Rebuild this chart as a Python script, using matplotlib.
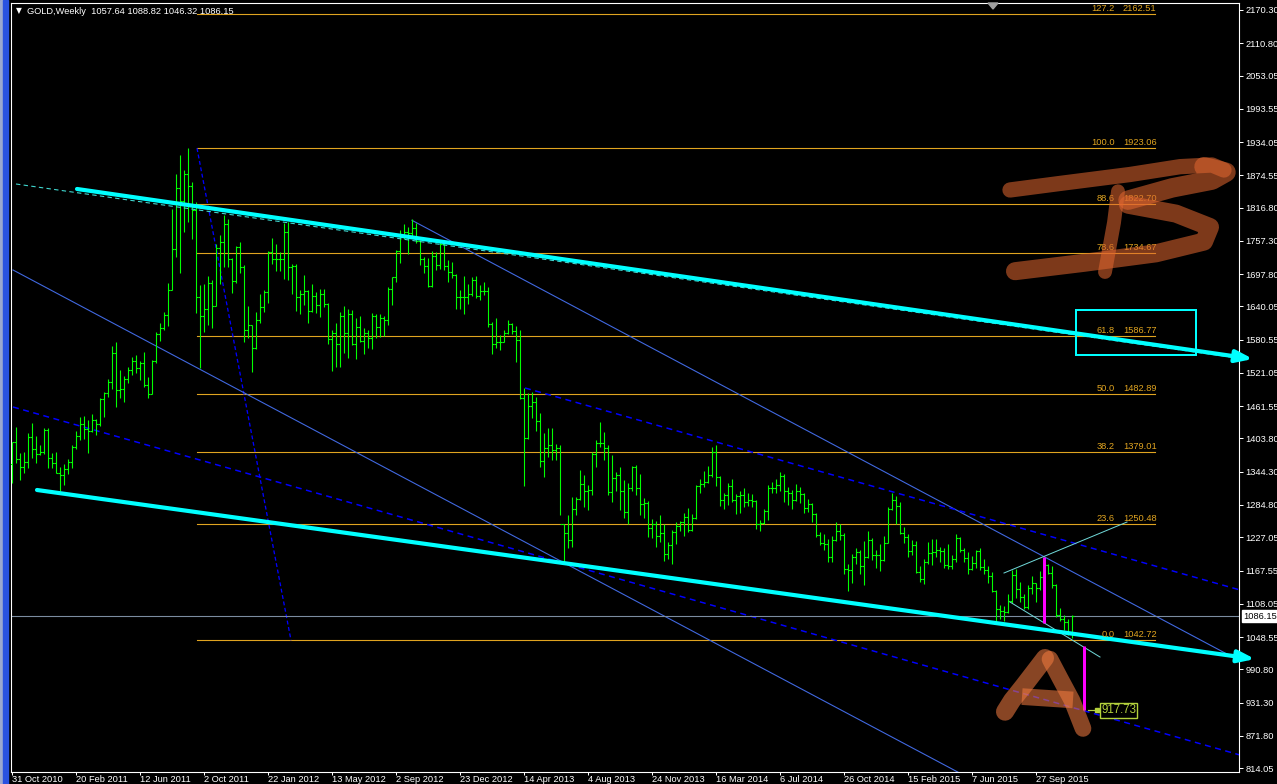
import matplotlib
matplotlib.use("Agg")
import matplotlib.pyplot as plt
from matplotlib.collections import LineCollection
from matplotlib.patches import Rectangle, Polygon

plt.rcParams['font.family'] = ['Liberation Sans', 'DejaVu Sans']

# ---------------- data (weekly GOLD bars, index 0 = week of 31 Oct 2010) ----------------
opens = [1358,1397,1367,1352,1362,1406,1385,1376,1380,1419,
         1368,1360,1342,1338,1349,1361,1388,1409,1429,1421,
         1418,1437,1429,1474,1486,1504,1556,1491,1492,1510,
         1526,1542,1530,1538,1500,1484,1542,1590,1601,1625,
         1670,1743,1852,1828,1877,1855,1813,1656,1623,1636,
         1682,1641,1745,1755,1788,1724,1685,1747,1710,1598,
         1606,1566,1616,1639,1665,1738,1725,1725,1725,1773,
         1710,1712,1656,1662,1668,1631,1659,1642,1663,1645,
         1581,1592,1572,1622,1592,1626,1572,1604,1579,1593,
         1584,1622,1603,1620,1616,1671,1692,1740,1768,1773,
         1772,1780,1757,1724,1712,1676,1730,1714,1751,1712,
         1701,1697,1657,1657,1656,1662,1687,1658,1667,1667,
         1609,1572,1576,1577,1592,1608,1596,1580,1476,1405,
         1462,1469,1435,1364,1386,1392,1383,1387,1251,1234,
         1223,1277,1296,1322,1310,1312,1376,1396,1395,1386,
         1308,1333,1338,1310,1272,1315,1352,1315,1286,1288,
         1243,1250,1229,1235,1197,1214,1237,1248,1254,1264,
         1240,1262,1318,1323,1326,1338,1379,1334,1294,1303,
         1318,1294,1300,1302,1290,1293,1292,1250,1252,1274,
         1316,1316,1320,1337,1310,1307,1294,1309,1305,1280,
         1287,1268,1231,1216,1215,1192,1222,1238,1231,1171,
         1169,1191,1201,1175,1191,1222,1195,1195,1186,1216,
         1277,1293,1283,1234,1227,1203,1213,1165,1152,1183,
         1199,1201,1205,1203,1178,1175,1188,1225,1205,1190,
         1170,1181,1202,1173,1168,1157,1131,1099,1095,1094,
         1113,1160,1134,1121,1103,1137,1145,1137,1156,1177,
         1163,1142,1088,1081,1076,1057.64]
highs = [1398,1424,1378,1380,1414,1431,1408,1392,1422,1422,
         1378,1379,1353,1358,1367,1392,1417,1442,1444,1437,
         1448,1439,1476,1487,1510,1569,1576,1526,1515,1531,
         1549,1553,1542,1558,1514,1544,1594,1610,1630,1682,
         1814,1877,1911,1884,1923.06,1863,1827,1678,1681,1694,
         1687,1752,1768,1804,1796,1727,1748,1755,1714,1641,
         1607,1630,1662,1669,1739,1762,1752,1738,1789,1791,
         1716,1716,1669,1696,1669,1680,1666,1671,1671,1646,
         1598,1611,1630,1641,1635,1634,1619,1623,1601,1598,
         1628,1626,1626,1623,1675,1693,1741,1777,1787,1782,
         1796,1789,1758,1729,1727,1740,1738,1755,1755,1723,
         1720,1698,1670,1694,1680,1693,1694,1679,1684,1674,
         1612,1619,1588,1597,1616,1611,1605,1598,1494,1485,
         1487,1478,1449,1414,1423,1423,1394,1392,1251,1267,
         1299,1299,1347,1338,1320,1380,1401,1433,1415,1392,
         1374,1344,1353,1330,1325,1355,1356,1340,1298,1292,
         1259,1256,1267,1250,1218,1240,1254,1256,1270,1279,
         1268,1320,1332,1345,1355,1388,1392,1336,1306,1324,
         1331,1304,1310,1315,1306,1304,1294,1258,1277,1320,
         1326,1331,1344,1340,1317,1311,1322,1317,1306,1295,
         1288,1270,1236,1232,1224,1230,1255,1250,1235,1179,
         1197,1208,1205,1221,1238,1225,1205,1215,1229,1282,
         1307,1301,1290,1245,1232,1223,1220,1175,1188,1219,
         1224,1224,1209,1207,1215,1196,1232,1228,1208,1201,
         1193,1205,1207,1189,1175,1164,1133,1106,1104,1126,
         1168,1170,1147,1125,1142,1157,1146,1166,1191,1180,
         1175,1143,1100,1088,1080,1088.82]
lows = [1325,1360,1330,1342,1351,1369,1360,1374,1376,1351,
        1351,1342,1310,1320,1340,1351,1385,1401,1403,1378,
        1415,1410,1426,1442,1478,1492,1460,1476,1469,1503,
        1517,1521,1508,1496,1476,1483,1539,1578,1598,1605,
        1670,1728,1700,1773,1791,1761,1628,1530,1594,1607,
        1601,1640,1680,1711,1711,1664,1682,1700,1576,1583,
        1522,1564,1610,1630,1646,1715,1703,1703,1689,1688,
        1663,1632,1627,1643,1611,1630,1628,1621,1639,1573,
        1525,1532,1532,1557,1548,1571,1546,1576,1555,1565,
        1563,1583,1585,1587,1607,1643,1683,1718,1761,1734,
        1764,1754,1714,1699,1675,1674,1705,1707,1706,1684,
        1690,1636,1635,1626,1645,1659,1655,1651,1660,1604,
        1555,1565,1562,1576,1591,1590,1540,1475,1318,1403,
        1440,1418,1352,1335,1371,1365,1365,1267,1181,1208,
        1210,1267,1294,1281,1275,1303,1353,1388,1365,1303,
        1290,1310,1276,1262,1251,1309,1303,1267,1262,1227,
        1226,1209,1218,1184,1188,1179,1215,1238,1229,1236,
        1238,1260,1306,1317,1324,1335,1319,1283,1277,1285,
        1291,1268,1271,1282,1283,1281,1242,1238,1251,1258,
        1306,1306,1309,1290,1285,1277,1292,1288,1271,1272,
        1254,1227,1213,1205,1183,1183,1220,1222,1161,1131,
        1146,1180,1161,1142,1190,1186,1172,1167,1185,1216,
        1276,1250,1232,1216,1192,1196,1163,1147,1144,1180,
        1177,1191,1183,1172,1170,1170,1182,1200,1182,1162,
        1168,1172,1168,1162,1146,1130,1077,1080,1077,1092,
        1110,1118,1111,1098,1098,1125,1111,1132,1147,1161,
        1136,1085,1078,1062,1052,1046.32]
closes = opens[1:] + [1086.15]

# x-axis labels: one every 16 weekly bars
date_ticks = [0, 16, 32, 48, 64, 80, 96, 112, 128, 144, 160, 176, 192, 208, 224, 240, 256]
date_labels = ["31 Oct 2010", "20 Feb 2011", "12 Jun 2011", "2 Oct 2011", "22 Jan 2012",
               "13 May 2012", "2 Sep 2012", "23 Dec 2012", "14 Apr 2013", "4 Aug 2013",
               "24 Nov 2013", "16 Mar 2014", "6 Jul 2014", "26 Oct 2014", "15 Feb 2015",
               "7 Jun 2015", "27 Sep 2015"]
price_ticks = [2170.30, 2110.80, 2053.05, 1993.55, 1934.05, 1874.55, 1816.80, 1757.30,
               1697.80, 1640.05, 1580.55, 1521.05, 1461.55, 1403.80, 1344.30, 1284.80,
               1227.05, 1167.55, 1108.05, 1048.55, 990.80, 931.30, 871.80, 814.05]

# Fibonacci retracement
fib_levels = [127.2, 100.0, 88.6, 78.6, 61.8, 50.0, 38.2, 23.6, 0.0]
fib_prices = [2162.51, 1923.06, 1822.70, 1734.67, 1586.77, 1482.89, 1379.01, 1250.48, 1042.72]
fib_x = [46.25, 285.75]
fib_diag = [(46.25, 1923.06), (69.75, 1042.72)]

# trend lines (week index, price)
upper_cyan = [(16.25, 1850.1), (310.25, 1546.0)]
lower_cyan = [(6.25, 1311.6), (310.75, 1009.2)]
cyan_dashed = [(1.0, 1859.0), (307.0, 1547.0)]
blue_line_a = [(0.25, 1705.2), (240.0, 793.5)]
blue_line_b = [(100.0, 1794.0), (307.0, 1005.7)]
blue_dash_c = [(0.25, 1460.1), (307.0, 837.5)]
blue_dash_d = [(128.25, 1494.1), (307.0, 1132.7)]
wedge_upper = [(248.0, 1163.1), (278.75, 1254.3)]
wedge_lower = [(249.5, 1111.2), (272.0, 1012.8)]
magenta_1 = [(258.0, 1191.6), (258.0, 1073.0)]
magenta_2 = [(268.0, 1032.5), (268.0, 917.73)]
target_price = 917.73
last_price = 1086.15
box_zone = [(266.0, 1553.1), (296.0, 1633.6)]

# hand-drawn letters (week index, price)
b_top = [(249.5, 1848.3), (262.0, 1860.0), (279.5, 1876.0), (292.0, 1890.0), (300.0, 1893.0),
         (303.0, 1884.0)]
b_blob = [(298.0, 1890.0), (303.5, 1880.0), (300.0, 1866.0), (290.0, 1852.0), (279.0, 1830.0)]
b_bottom = [(279.0, 1822.0), (291.0, 1806.0), (299.5, 1782.0), (298.0, 1756.0),
            (286.0, 1735.0), (268.0, 1718.0), (250.75, 1703.0)]
b_stem = [(276.5, 1846.0), (275.5, 1790.0), (273.25, 1701.6)]
a_left = [(248.25, 915.0), (250.0, 935.0), (253.0, 962.0), (258.25, 1011.0)]
a_right = [(259.5, 1009.0), (262.0, 975.0), (265.0, 935.0), (267.75, 885.0)]
a_bar = [(252.5, 942.0), (265.25, 936.0)]

header = "GOLD,Weekly  1057.64 1088.82 1046.32 1086.15"

# ---------------- figure ----------------
W, H = 1277, 784
fig = plt.figure(figsize=(W / 100, H / 100), dpi=100, facecolor="black")
L, R, T, B = 11, 1239, 3, 772
ax = fig.add_axes([L / W, 1 - B / H, (R - L) / W, (B - T) / H])
ax.set_facecolor("black")
ax.set_xlim(-0.25, 306.75)
ax.set_ylim(807.1, 2182.8)

FS = 6.7
px = 0.72  # one pixel in points

# OHLC bars
segs = []
for i, (o, h, l, c) in enumerate(zip(opens, highs, lows, closes)):
    segs.append([(i, l), (i, h)])
    segs.append([(i - 0.38, o), (i, o)])
    segs.append([(i, c), (i + 0.38, c)])
ax.add_collection(LineCollection(segs, colors="#00FF00", linewidths=1.1 * px, zorder=3))

def line(pts, **kw):
    xs, ys = zip(*pts)
    return ax.plot(xs, ys, **kw)

# Fibonacci levels
fib_col = "#E0A420"
for lvl, p in zip(fib_levels, fib_prices):
    ax.plot(fib_x, [p, p], color=fib_col, lw=1.1 * px, zorder=2)
    ax.annotate(f"{lvl:.1f}", xy=(fib_x[1], p), xytext=(-40, 1), textcoords="offset pixels",
                ha="right", va="bottom", color=fib_col, fontsize=FS, zorder=6)
    ax.annotate(f"{p:.2f}", xy=(fib_x[1], p), xytext=(-32, 1), textcoords="offset pixels",
                ha="left", va="bottom", color=fib_col, fontsize=FS, zorder=6)
line(fib_diag, color="#0000FF", lw=1.3 * px, ls=(0, (3, 2)), zorder=2)

# blue channel lines
line(blue_line_a, color="#4169E1", lw=1.1 * px, zorder=2)
line(blue_line_b, color="#4169E1", lw=1.1 * px, zorder=2)
line(blue_dash_c, color="#0000FF", lw=1.5 * px, ls=(0, (4, 3)), zorder=2)
line(blue_dash_d, color="#0000FF", lw=1.5 * px, ls=(0, (4, 3)), zorder=2)

# current price line
ax.axhline(last_price, color="#7B8CA0", lw=1.1 * px, zorder=2)

# cyan lines
line(cyan_dashed, color="#40D8D0", lw=1.1 * px, ls=(0, (4, 3)), zorder=4)
for pts in (upper_cyan, lower_cyan):
    ann = ax.annotate("", xy=pts[1], xytext=pts[0], annotation_clip=False,
                      arrowprops=dict(arrowstyle="-|>,head_length=1.0,head_width=0.36",
                                      lw=3.0, color="#00FFFF", shrinkA=0, shrinkB=0),
                      zorder=5)
    ann.arrow_patch.set_clip_on(False)

# wedge lines
line(wedge_upper, color="#70D8D8", lw=1.0 * px, zorder=4)
line(wedge_lower, color="#70D8D8", lw=1.0 * px, zorder=4)

# magenta measurement lines
line(magenta_1, color="#FF00FF", lw=3 * px, zorder=5, solid_capstyle="butt")
line(magenta_2, color="#FF00FF", lw=3 * px, zorder=5, solid_capstyle="butt")

# target label
tgt_col = "#B4D23C"
ax.plot([magenta_2[1][0] + 1.0, magenta_2[1][0] + 3.6], [target_price, target_price],
        color=tgt_col, lw=1.2 * px, zorder=6)
ax.plot([magenta_2[1][0] + 3.3], [target_price], marker="s", ms=3, color=tgt_col, zorder=6)
ax.annotate(f"{target_price:.2f}", xy=(magenta_2[1][0], target_price), xytext=(17, 0),
            textcoords="offset pixels", ha="left", va="center", color=tgt_col,
            fontsize=FS + 1.6, zorder=7,
            bbox=dict(boxstyle="square,pad=0.12", fc="black", ec=tgt_col, lw=1.0))

# cyan box
(bx0, by0), (bx1, by1) = box_zone
ax.add_patch(Rectangle((bx0, by0), bx1 - bx0, by1 - by0, fill=False, ec="#00FFFF",
                       lw=2 * px, zorder=6))

# hand drawn letters
brush_b = dict(color="#E06630", alpha=0.56, lw=11, solid_capstyle="round",
               solid_joinstyle="round", zorder=8)
brush_a = dict(color="#F07A40", alpha=0.57, lw=12, solid_capstyle="round",
               solid_joinstyle="round", zorder=8)
line(b_top, **brush_b)
line(b_blob, **dict(brush_b, lw=14))
line(b_bottom, **dict(brush_b, lw=13))
line(b_stem, **dict(brush_b, lw=10))
line(a_left, **dict(brush_a, lw=13))
line(a_right, **dict(brush_a, lw=12))
line(a_bar, **dict(brush_a, solid_capstyle="butt"))

# axes styling
for s in ax.spines.values():
    s.set_color("white")
    s.set_linewidth(1.1 * px)
ax.set_xticks(date_ticks)
ax.set_xticklabels(date_labels)
for t in ax.get_xticklabels():
    t.set_ha("left")
ax.tick_params(axis="x", colors="white", length=2.5, width=1 * px, pad=-0.5, labelsize=FS)
ax.yaxis.tick_right()
ax.set_yticks(price_ticks)
ax.set_yticklabels([f"{v:.2f}" for v in price_ticks])
ax.tick_params(axis="y", colors="white", length=3, width=1 * px, pad=1.5, labelsize=FS)

# current price tag on the axis
ax.annotate(f"{last_price:.2f}", xy=(1.0, last_price), xycoords=("axes fraction", "data"),
            xytext=(4, 0), textcoords="offset pixels", ha="left", va="center",
            color="black", fontsize=FS, annotation_clip=False,
            bbox=dict(boxstyle="square,pad=0.12", fc="white", ec="white"))

# header
fig.text(16 / W, 1 - 11 / H, "\u25BC", color="white", fontsize=5.5, va="center",
         family="DejaVu Sans")
fig.text(27 / W, 1 - 11 / H, header, color="white", fontsize=FS, va="center")

# window chrome on the left edge and the shift marker on top
fig.patches.append(Rectangle((0, 0), 3 / W, 1, transform=fig.transFigure,
                             color="#9CA8D0", zorder=0))
fig.patches.append(Rectangle((3 / W, 0), 5 / W, 1, transform=fig.transFigure,
                             color="#2A52E0", zorder=0))
fig.patches.append(Polygon([(988 / W, 1 - 3 / H), (998 / W, 1 - 3 / H), (993 / W, 1 - 9 / H)],
                           closed=True, transform=fig.transFigure, color="#A0A0A0", zorder=10))

fig.savefig("out.png", dpi=100, facecolor="black")
